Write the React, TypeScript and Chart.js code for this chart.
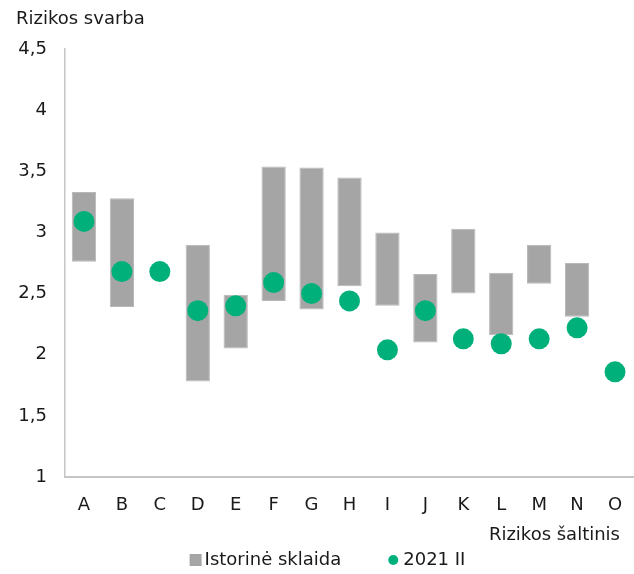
import React, { useEffect, useRef } from "react";
import { Chart, registerables } from "chart.js";

Chart.register(...registerables);

const categories = ["A", "B", "C", "D", "E", "F", "G", "H", "I", "J", "K", "L", "M", "N", "O"];
const histMin: (number | null)[] = [2.76, 2.39, null, 1.78, 2.05, 2.44, 2.37, 2.56, 2.40, 2.10, 2.50, 2.16, 2.58, 2.31, null];
const histMax: (number | null)[] = [3.33, 3.28, null, 2.90, 2.49, 3.54, 3.53, 3.45, 3.00, 2.66, 3.03, 2.67, 2.90, 2.75, null];
const current: number[] = [3.09, 2.68, 2.68, 2.36, 2.40, 2.59, 2.50, 2.44, 2.04, 2.36, 2.13, 2.09, 2.13, 2.22, 1.86];
const seriesNames = ["Istorinė sklaida", "2021 II"];
const yTitle = "Rizikos svarba";
const xTitle = "Rizikos šaltinis";

const GRAY = "#a5a5a5";
const GREEN = "#00b07b";
const TEXT = "#1a1a1a";
const FONT = "'DejaVu Sans', Verdana, sans-serif";
const FS = 18;

const annotPlugin = {
  id: "annot",
  afterDraw(chart: any) {
    const ctx = chart.ctx;
    const area = chart.chartArea;
    ctx.save();
    ctx.font = `${FS}px ${FONT}`;
    ctx.fillStyle = TEXT;
    ctx.textBaseline = "middle";
    // axis titles
    ctx.textAlign = "left";
    ctx.fillText(yTitle, 16, 19);
    ctx.textAlign = "right";
    ctx.fillText(xTitle, area.right - 14, area.bottom + 58);
    // legend
    const w1 = ctx.measureText(seriesNames[0]).width;
    const w2 = ctx.measureText(seriesNames[1]).width;
    const sq = 12;
    const gapIcon = 3;
    const gapItems = 47;
    const dot = 10;
    const total = sq + gapIcon + w1 + gapItems + dot + gapIcon + 2 + w2;
    const cy = area.bottom + 83;
    let x = (area.left + area.right) / 2 - total / 2 - 22;
    ctx.textAlign = "left";
    ctx.fillStyle = GRAY;
    ctx.fillRect(x, cy - sq / 2, sq, sq);
    x += sq + gapIcon;
    ctx.fillStyle = TEXT;
    ctx.fillText(seriesNames[0], x, cy);
    x += w1 + gapItems;
    ctx.fillStyle = GREEN;
    ctx.beginPath();
    ctx.arc(x + dot / 2, cy, dot / 2, 0, Math.PI * 2);
    ctx.fill();
    x += dot + gapIcon + 2;
    ctx.fillStyle = TEXT;
    ctx.fillText(seriesNames[1], x, cy);
    ctx.restore();
  },
};

export default function App() {
  const ref = useRef<HTMLCanvasElement>(null);
  useEffect(() => {
    const chart = new Chart(ref.current!, {
      type: "bar",
      data: {
        labels: categories,
        datasets: [
          {
            type: "bar",
            label: seriesNames[0],
            data: categories.map((_, i) =>
              histMin[i] == null ? null : [histMin[i] as number, histMax[i] as number]
            ) as any,
            backgroundColor: GRAY,
            borderColor: "#b8b8b8",
            borderWidth: 1,
            borderSkipped: false,
            barPercentage: 0.64,
            categoryPercentage: 1,
            order: 1,
          },
          {
            type: "line",
            label: seriesNames[1],
            data: current,
            showLine: false,
            pointRadius: 10.5,
            pointHoverRadius: 10.5,
            pointBackgroundColor: GREEN,
            pointBorderColor: GREEN,
            pointBorderWidth: 0,
            backgroundColor: GREEN,
            borderColor: GREEN,
            order: 0,
          } as any,
        ],
      },
      options: {
        animation: false,
        responsive: false,
        layout: { autoPadding: false, padding: { top: 49, left: 0, right: 0, bottom: 0 } },
        scales: {
          x: {
            offset: true,
            grid: { display: false, drawTicks: false },
            border: { display: true, color: "#c6c6c6", width: 2 },
            ticks: { font: { family: FONT, size: FS }, color: TEXT, padding: 18 },
            afterFit: (s: any) => {
              s.height = 97;
              s.paddingLeft = 0;
              s.paddingRight = 0;
            },
          },
          y: {
            min: 1,
            max: 4.5,
            grid: { display: false, drawTicks: false },
            border: { display: true, color: "#c6c6c6", width: 1.5 },
            ticks: {
              stepSize: 0.5,
              font: { family: FONT, size: FS },
              color: TEXT,
              padding: 18,
              callback: (v: any) => String(v).replace(".", ","),
            },
            afterFit: (s: any) => {
              s.width = 65;
            },
          },
        },
        plugins: {
          title: { display: false },
          tooltip: { enabled: false },
          legend: { display: false },
        } as any,
      },
      plugins: [annotPlugin],
    });
    return () => chart.destroy();
  }, []);
  return (
    <canvas
      ref={ref}
      width={634}
      height={574}
      style={{ position: "absolute", left: 0, top: 0, display: "block" }}
    />
  );
}
